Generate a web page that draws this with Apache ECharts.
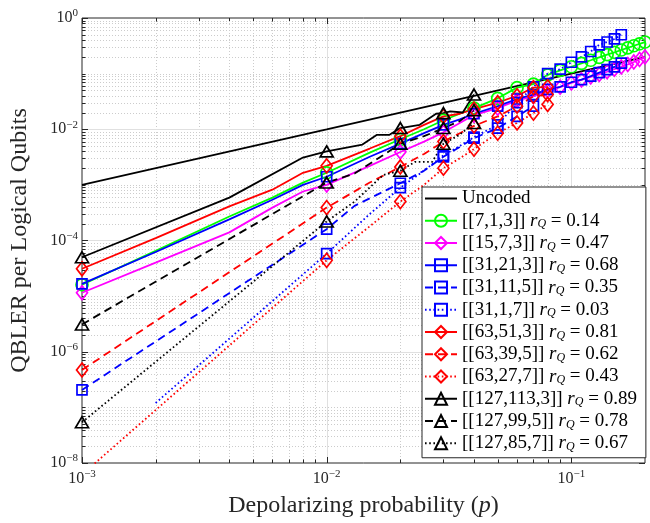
<!DOCTYPE html>
<html><head><meta charset="utf-8">
<script src="https://cdn.jsdelivr.net/npm/echarts@6/dist/echarts.min.js"></script>
<style>html,body{margin:0;padding:0;background:#fff}#c{width:650px;height:523px}</style>
</head><body><div id="c"></div>
<script>
// ---------------- data ----------------
const markerP = [0.001, 0.01, 0.02, 0.03, 0.04, 0.05, 0.06, 0.07, 0.08, 0.09, 0.1, 0.11, 0.12, 0.13, 0.14, 0.15, 0.16, 0.17, 0.18, 0.19, 0.2];

const pUncoded = [0.001, 0.01, 0.04, 0.1, 0.2];
const qUncoded = [0.001, 0.0099, 0.04, 0.1, 0.2];

const p_7_1_3 = [0.001,0.002,0.004,0.006,0.008,0.01,0.015,0.02,0.025,0.03,0.035,0.04,0.05,0.06,0.07,0.08,0.09,0.1,0.11,0.12,0.13,0.14,0.15,0.16,0.17,0.18,0.19,0.2];
const q_7_1_3 = [1.6e-5,6.5e-5,2.7e-4,5.9e-4,1.1e-3,1.65e-3,3.8e-3,6.6e-3,1.0e-2,1.45e-2,1.9e-2,2.4e-2,3.6e-2,5.6e-2,6.5e-2,9.5e-2,0.114,0.133,0.153,0.174,0.196,0.219,0.242,0.266,0.291,0.317,0.344,0.37];

const p_15_7_3 = [0.001,0.002,0.004,0.006,0.008,0.01,0.015,0.02,0.025,0.03,0.035,0.04,0.05,0.06,0.07,0.08,0.09,0.1,0.11,0.12,0.13,0.14,0.15,0.16,0.17,0.18,0.19,0.2];
const q_15_7_3 = [1.15e-5,4.0e-5,1.4e-4,3.9e-4,7.6e-4,1.0e-3,2.2e-3,3.9e-3,6.0e-3,8.8e-3,1.3e-2,1.8e-2,2.4e-2,3.3e-2,3.9e-2,4.9e-2,5.7e-2,6.8e-2,7.7e-2,8.7e-2,9.7e-2,0.108,0.12,0.132,0.146,0.162,0.18,0.2];

const p_31_21_3 = [0.001,0.002,0.004,0.006,0.008,0.01,0.015,0.02,0.025,0.03,0.035,0.04,0.05,0.06,0.07,0.08,0.09,0.1,0.11,0.12,0.13,0.14,0.15,0.16];
const q_31_21_3 = [1.66e-5,6.2e-5,2.4e-4,5.4e-4,1.0e-3,1.4e-3,3.2e-3,5.5e-3,8.5e-3,1.2e-2,1.5e-2,1.9e-2,2.6e-2,3.5e-2,4.2e-2,5.2e-2,5.8e-2,7.0e-2,7.8e-2,9.0e-2,0.104,0.118,0.132,0.155];

const p_31_11_5 = [0.001,0.01,0.013,0.02,0.025,0.03,0.035,0.04,0.05,0.06,0.07];
const q_31_11_5 = [2.06e-7,1.6e-4,4.2e-4,1.07e-3,1.8e-3,3.2e-3,4.8e-3,6.9e-3,1.05e-2,1.7e-2,2.6e-2];

const p_31_1_7 = [0.002,0.01,0.015,0.02,0.025,0.03,0.035,0.04,0.05,0.06,0.07,0.08,0.09,0.1,0.11,0.12,0.13,0.14,0.15,0.16];
const q_31_1_7 = [1.2e-7,5.8e-5,3.0e-4,8.9e-4,1.8e-3,3.4e-3,5.0e-3,7.2e-3,1.2e-2,3.0e-2,5.8e-2,0.10,0.12,0.16,0.2,0.25,0.33,0.37,0.42,0.5];

const p_63_51_3 = [0.001,0.002,0.004,0.006,0.008,0.01,0.015,0.02,0.025,0.03,0.035,0.04,0.05,0.06,0.07,0.08];
const q_63_51_3 = [3.1e-5,1.1e-4,4.1e-4,8.2e-4,1.65e-3,2.2e-3,4.5e-3,7.5e-3,1.2e-2,1.7e-2,1.9e-2,2.3e-2,3.0e-2,4.0e-2,5.6e-2,5.8e-2];

const p_63_39_5 = [0.001,0.01,0.015,0.02,0.025,0.03,0.035,0.04,0.05,0.06,0.07,0.08];
const q_63_39_5 = [4.7e-7,3.9e-4,1.1e-3,2.1e-3,3.6e-3,6.0e-3,8.5e-3,1.15e-2,1.7e-2,2.6e-2,3.9e-2,4.2e-2];

const p_63_27_7 = [0.001,0.01,0.015,0.02,0.025,0.03,0.035,0.04,0.05,0.06,0.07,0.08];
const q_63_27_7 = [6.2e-9,4.4e-5,1.8e-4,5.0e-4,1.0e-3,2.0e-3,3.0e-3,4.4e-3,8.5e-3,1.3e-2,1.95e-2,2.8e-2];

const p_127_113_3 = [0.001,0.004,0.008,0.01,0.014,0.016,0.018,0.02,0.024,0.028,0.03,0.032,0.036,0.04];
const q_127_113_3 = [5.0e-5,5.9e-4,3.1e-3,4.0e-3,5.3e-3,7.9e-3,7.9e-3,1.05e-2,1.2e-2,1.9e-2,1.95e-2,2.1e-2,2.0e-2,4.2e-2];

const p_127_99_5 = [0.001,0.01,0.013,0.017,0.02,0.025,0.03,0.035,0.04];
const q_127_99_5 = [3.1e-6,1.1e-3,1.6e-3,3.4e-3,5.5e-3,7.5e-3,1.05e-2,1.4e-2,2.2e-2];

const p_127_85_7 = [0.001,0.01,0.013,0.017,0.02,0.023,0.027,0.03,0.035,0.04];
const q_127_85_7 = [5.4e-8,2.2e-4,5.0e-4,1.5e-3,1.8e-3,2.6e-3,2.6e-3,5.5e-3,8.0e-3,1.3e-2];

const codeNames = ['[[7,1,3]]','[[15,7,3]]','[[31,21,3]]','[[31,11,5]]','[[31,1,7]]','[[63,51,3]]','[[63,39,5]]','[[63,27,7]]','[[127,113,3]]','[[127,99,5]]','[[127,85,7]]'];
const codeRates = ['0.14','0.47','0.68','0.35','0.03','0.81','0.62','0.43','0.89','0.78','0.67'];

const xTickExps = [-3, -2, -1];
const yTickExps = [0, -2, -4, -6, -8];
const xDecades = [0.001, 0.01, 0.1];
const yDecades = [1e-8, 1e-7, 1e-6, 1e-5, 1e-4, 1e-3, 1e-2, 1e-1, 1];

// ---------------- build ----------------
const FONT = "'Liberation Serif', 'DejaVu Serif', serif";
const GREEN = '#00ff00', MAG = '#ff00ff', BLUE = '#0000ff', RED = '#ff0000', BLACK = '#000000';
const SOLID = 'solid', DASH = [8, 5], DOT = [1.6, 2.6];
const LW = 1.8, MW = 1.7;

function isMarker(p) { return markerP.some(m => Math.abs(m - p) < 1e-9); }

function mk(name, P, Q, color, symbol, size, dash) {
  const data = P.map((p, i) => {
    const it = { value: [p, Q[i]] };
    if (!symbol || !isMarker(p)) it.symbol = 'none';
    return it;
  });
  return {
    name, type: 'line', data, symbol: symbol || 'circle', symbolSize: size,
    showSymbol: true, showAllSymbol: true, clip: true, z: 3,
    lineStyle: { color, width: LW, type: dash },
    itemStyle: { color: 'rgba(0,0,0,0)', borderColor: symbol ? color : 'rgba(0,0,0,0)', borderWidth: symbol ? MW : 0 },
    emphasis: { disabled: true }
  };
}

const CIR = 12, DIA = [11, 14], SQ = 10, TRI = [13, 11];
const series = [
  mk('Uncoded', pUncoded, qUncoded, BLACK, null, 0, SOLID),
  mk(codeNames[0], p_7_1_3, q_7_1_3, GREEN, 'circle', CIR, SOLID),
  mk(codeNames[1], p_15_7_3, q_15_7_3, MAG, 'diamond', DIA, SOLID),
  mk(codeNames[2], p_31_21_3, q_31_21_3, BLUE, 'rect', SQ, SOLID),
  mk(codeNames[3], p_31_11_5, q_31_11_5, BLUE, 'rect', SQ, DASH),
  mk(codeNames[4], p_31_1_7, q_31_1_7, BLUE, 'rect', SQ, DOT),
  mk(codeNames[5], p_63_51_3, q_63_51_3, RED, 'diamond', DIA, SOLID),
  mk(codeNames[6], p_63_39_5, q_63_39_5, RED, 'diamond', DIA, DASH),
  mk(codeNames[7], p_63_27_7, q_63_27_7, RED, 'diamond', DIA, DOT),
  mk(codeNames[8], p_127_113_3, q_127_113_3, BLACK, 'triangle', TRI, SOLID),
  mk(codeNames[9], p_127_99_5, q_127_99_5, BLACK, 'triangle', TRI, DASH),
  mk(codeNames[10], p_127_85_7, q_127_85_7, BLACK, 'triangle', TRI, DOT)
];

// grid lines and ticks (drawn through the axis scales)
const gridData = [];
xDecades.forEach(d => {
  gridData.push([d, 1e-4, 1]);
  for (let k = 2; k <= 9; k++) { const v = d * k; if (v < 0.2 - 1e-9) gridData.push([v, 1e-4, 0]); }
});
yDecades.forEach(d => {
  const e = Math.round(Math.log10(d));
  gridData.push([0.01, d, yTickExps.includes(e) ? 3 : 2]);
  if (d < 1) for (let k = 2; k <= 9; k++) gridData.push([0.01, d * k, 2]);
});

function renderGrid(params, api) {
  const cs = params.coordSys;
  const kind = api.value(2);
  const ch = [];
  const tickStyle = { stroke: '#262626', lineWidth: 1 };
  const top = cs.y, bot = cs.y + cs.height, left = cs.x, right = cs.x + cs.width;
  const majStyle = { stroke: '#e0e0e0', lineWidth: 1 };
  const minStyle = { stroke: '#cccccc', lineWidth: 1, lineDash: [1, 2] };
  if (kind < 2) {
    const X = Math.round(api.coord([api.value(0), 1e-4])[0]) + 0.5;
    const major = kind === 1;
    if (X > left + 1) ch.push({ type: 'line', shape: { x1: X, y1: top, x2: X, y2: bot }, style: major ? majStyle : minStyle });
    const L = major ? 6 : 3.5;
    ch.push({ type: 'line', shape: { x1: X, y1: bot, x2: X, y2: bot - L }, style: tickStyle });
    ch.push({ type: 'line', shape: { x1: X, y1: top, x2: X, y2: top + L }, style: tickStyle });
  } else {
    const Y = Math.round(api.coord([0.01, api.value(1)])[1]) + 0.5;
    const major = kind === 3;
    if (Y > top + 1 && Y < bot - 1) ch.push({ type: 'line', shape: { x1: left, y1: Y, x2: right, y2: Y }, style: major ? majStyle : minStyle });
    const L = major ? 6 : 3.5;
    ch.push({ type: 'line', shape: { x1: left, y1: Y, x2: left + L, y2: Y }, style: tickStyle });
    ch.push({ type: 'line', shape: { x1: right, y1: Y, x2: right - L, y2: Y }, style: tickStyle });
  }
  return { type: 'group', children: ch, silent: true };
}

series.unshift({
  type: 'custom', name: '__grid', data: gridData, renderItem: renderGrid,
  dimensions: ['x', 'y', 'kind'], encode: { x: 0, y: 1 }, z: 1, silent: true, clip: false
});

function expLabel(allowed) {
  return function (v) {
    const e = Math.log10(v), r = Math.round(e);
    if (Math.abs(e - r) > 1e-6 || !allowed.includes(r)) return '';
    return '{b|10}{s|' + (r < 0 ? '\u2212' : '') + Math.abs(r) + '}';
  };
}
const labelRich = {
  b: { fontSize: 16, fontFamily: FONT, color: '#262626' },
  s: { fontSize: 11, fontFamily: FONT, color: '#262626', padding: [0, 0, 9, 0] }
};

const rateMap = {};
codeNames.forEach((n, i) => rateMap[n] = codeRates[i]);

const option = {
  animation: false,
  backgroundColor: '#fff',
  textStyle: { fontFamily: FONT },
  grid: { left: 80, right: 5, top: 18, bottom: 59, show: true, borderColor: '#262626', borderWidth: 1, backgroundColor: '#fff' },
  xAxis: {
    type: 'log', logBase: 10, min: 0.001, max: 0.2,
    axisLine: { show: false }, axisTick: { show: false }, splitLine: { show: false },
    axisLabel: { formatter: expLabel(xTickExps), rich: labelRich, margin: 6, showMaxLabel: false },
    name: 'Depolarizing probability ({i|p})', nameLocation: 'middle', nameGap: 31,
    nameTextStyle: { fontSize: 24, fontFamily: FONT, color: '#262626',
      rich: { i: { fontSize: 24, fontFamily: FONT, fontStyle: 'italic', color: '#262626' } } }
  },
  yAxis: {
    type: 'log', logBase: 10, min: 1e-8, max: 1,
    axisLine: { show: false }, axisTick: { show: false }, splitLine: { show: false },
    axisLabel: { formatter: expLabel(yTickExps), rich: labelRich, margin: 4 },
    name: 'QBLER per Logical Qubits', nameLocation: 'middle', nameGap: 50,
    nameTextStyle: { fontSize: 24, fontFamily: FONT, color: '#262626' }
  },
  legend: {
    data: ['Uncoded'].concat(codeNames),
    orient: 'vertical', left: 422, top: 187,
    backgroundColor: '#fff', borderColor: '#262626', borderWidth: 1, borderRadius: 0,
    padding: [2, 9, 5, 2], itemWidth: 32, itemHeight: 15, itemGap: 3.25,
    selectedMode: false,
    textStyle: { fontSize: 19, fontFamily: FONT, color: '#000', lineHeight: 19,
      rich: {
        r: { fontSize: 19, lineHeight: 19, fontFamily: FONT, fontStyle: 'italic', color: '#000' },
        q: { fontSize: 12, lineHeight: 12, fontFamily: FONT, fontStyle: 'italic', color: '#000', padding: [7, 0, 0, 0] },
        t: { fontSize: 19, lineHeight: 19, fontFamily: FONT, color: '#000' }
      } },
    formatter: function (name) {
      if (name === 'Uncoded') return name;
      return name + ' {r|r}{q|Q}{t| = ' + rateMap[name] + '}';
    }
  },
  series
};

const chart = echarts.init(document.getElementById('c'), null, { renderer: 'canvas' });
chart.setOption(option);
</script>
</body></html>
